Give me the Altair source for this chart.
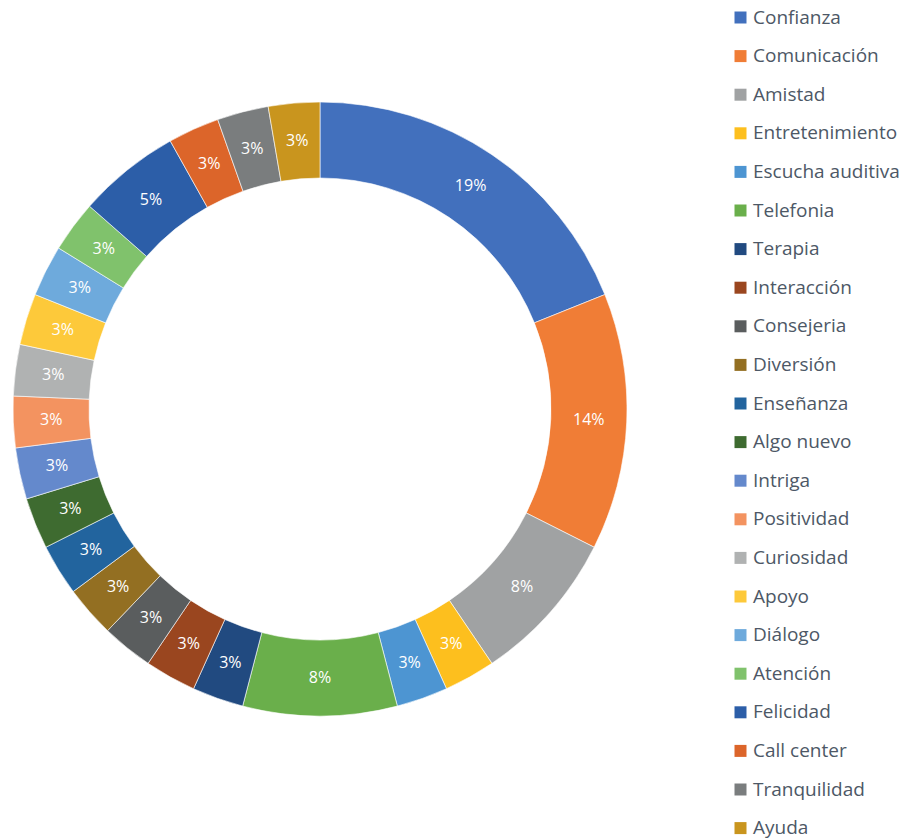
import altair as alt
import pandas as pd

# Responses per category (clockwise from 12 o'clock)
categories = [
    "Confianza", "Comunicación", "Amistad", "Entretenimiento", "Escucha auditiva",
    "Telefonia", "Terapia", "Interacción", "Consejeria", "Diversión", "Enseñanza",
    "Algo nuevo", "Intriga", "Positividad", "Curiosidad", "Apoyo", "Diálogo",
    "Atención", "Felicidad", "Call center", "Tranquilidad", "Ayuda",
]
counts = [7, 5, 3, 1, 1, 3, 1, 1, 1, 1, 1, 1, 1, 1, 1, 1, 1, 1, 2, 1, 1, 1]
colors = [
    "#4270bd", "#f07d36", "#a0a2a3", "#fdbf1e", "#4d95d2", "#6aaf4b",
    "#214a80", "#9a461f", "#5a5d5e", "#936f22", "#22649e", "#3e6b30",
    "#6489cc", "#f39360", "#b0b2b2", "#fdc93a", "#6eaadc", "#80c26c",
    "#2c5ea8", "#dc652a", "#7a7d7e", "#c9951e",
]

df = pd.DataFrame({"categoria": categories, "n": counts, "orden": range(len(categories))})

cx, cy = 320, 409
r_out, r_in = 307, 231

base = alt.Chart(df).transform_joinaggregate(
    total="sum(n)"
).transform_calculate(
    etiqueta="format(round(datum.n / datum.total * 100), 'd') + '%'"
).encode(
    theta=alt.Theta("n:Q", stack=True),
    order=alt.Order("orden:Q", sort="ascending"),
    x=alt.value(cx),
    y=alt.value(cy),
)

arcs = base.mark_arc(
    innerRadius=r_in, outerRadius=r_out, stroke="white", strokeWidth=0.6
).encode(
    color=alt.Color(
        "categoria:N",
        sort=categories,
        scale=alt.Scale(domain=categories, range=colors),
        legend=alt.Legend(
            title=None,
            orient="none",
            legendX=731,
            legendY=8,
            symbolType="square",
            symbolSize=144,
            symbolStrokeWidth=0,
            labelFont="Open Sans",
            labelFontSize=19,
            labelColor="#4d5866",
            labelOffset=3,
            rowPadding=18.6,
            labelLimit=200,
        ),
    )
)

labels = base.mark_text(
    radius=(r_out + r_in) / 2,
    font="Open Sans",
    fontSize=16,
    color="white",
).encode(text="etiqueta:N")

chart = (
    alt.layer(arcs, labels)
    .properties(width=910, height=839, padding=0, autosize="none")
    .configure_view(stroke=None)
)

chart.save("out.html", embed_options={"renderer": "svg", "actions": False})
